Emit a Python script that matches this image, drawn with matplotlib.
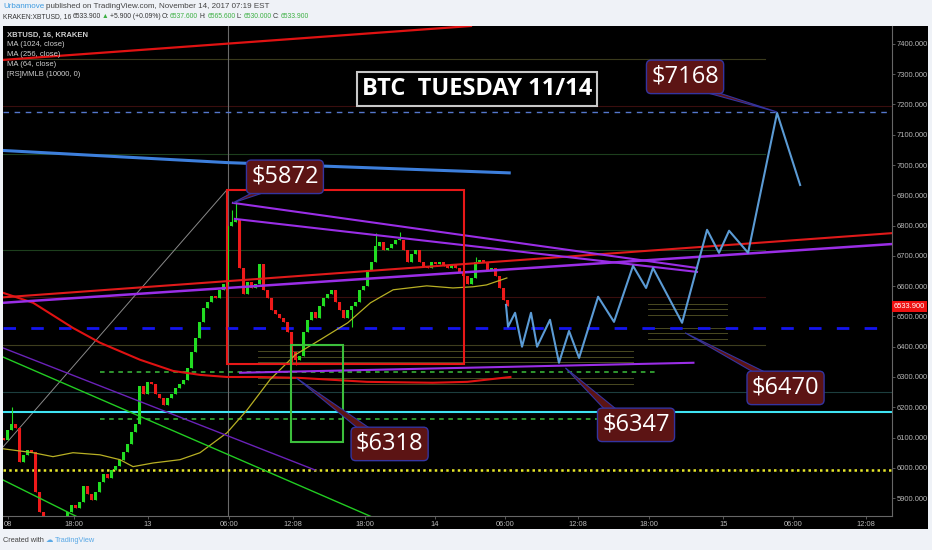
import matplotlib.pyplot as plt
import matplotlib.patches as mpatches
import matplotlib.transforms as mtransforms
import numpy as np

W, H = 932, 550

# ---- candles (20 min bars, hours from 13 Nov 00:00) ----
T0 = -12.04
BAR_H = 0.3344
OPEN0 = 6100
closes = [6092, 6125, 6145, 6132, 6020, 6043, 6059, 6053, 5921, 5855,
          5812, 5779, 5746, 5762, 5795, 5822, 5855, 5878, 5868, 5888,
          5941, 5914, 5894, 5921, 5954, 5980, 5967, 5993, 6007, 6026,
          6053, 6079, 6119, 6145, 6271, 6244, 6284, 6277, 6244, 6231,
          6208, 6231, 6244, 6264, 6277, 6291, 6330, 6383, 6429, 6482,
          6528, 6548, 6568, 6561, 6588, 6608, 6799, 6812, 6819, 6660,
          6574, 6614, 6594, 6608, 6674, 6588, 6561, 6522, 6508, 6495,
          6482, 6449, 6383, 6357, 6370, 6449, 6489, 6515, 6495, 6535,
          6561, 6574, 6588, 6548, 6522, 6495, 6522, 6535, 6548, 6588,
          6601, 6654, 6680, 6733, 6746, 6720, 6726, 6740, 6753, 6753,
          6720, 6680, 6707, 6720, 6680, 6667, 6660, 6680, 6674, 6680,
          6667, 6660, 6674, 6660, 6647, 6634, 6608, 6627, 6680, 6687,
          6680, 6654, 6660, 6634, 6594, 6555, 6534]
high_wicks = {2: 6202, 57: 6850, 58: 6878, 93: 6776, 99: 6779, 118: 6697}
low_wicks = {72: 6350, 73: 6340, 87: 6466}

# ---- indicator / drawing lines (hour, price) ----
ma_top_t, ma_top_p = [-12.12, 27.0], [7347, 7459]
ma_blue_t, ma_blue_p = [-12.12, 6.6, 30.2], [7048, 7008, 6974]
ma_red_t = [-12.12, -9.6, -6.27, -4.0, -0.67, 2.1, 4.35, 6.6, 9.4, 12.7, 18.3, 23.8, 26.7, 30.3]
ma_red_p = [6578, 6545, 6462, 6413, 6357, 6320, 6307, 6300, 6300, 6297, 6284, 6281, 6284, 6300]
ma_yel_t = [-12.12, -9.61, -7.94, -6.27, -4.01, -2.34, -1.25, 0.42, 2.68, 4.35, 6.61, 8.28,
            10.2, 12.3, 14.4, 16.7, 18.6, 20.5, 23.3, 25.5, 27.2, 28.3, 30.0]
ma_yel_p = [6063, 6050, 6037, 6050, 6043, 6027, 6004, 6016, 6027, 6050, 6116, 6191,
            6291, 6373, 6423, 6479, 6545, 6588, 6601, 6594, 6598, 6604, 6627]

red_up_t, red_up_p = [-12.12, 62.2], [6563, 6775]
pur_up_t, pur_up_p = [-12.12, 62.2], [6545, 6739]
pur_dn1_t, pur_dn1_p = [7.1, 45.9], [6875, 6660]
pur_dn2_t, pur_dn2_p = [7.27, 45.9], [6822, 6647]
pur_low_t, pur_low_p = [7.7, 45.6], [6314, 6347]
pur_diag_t, pur_diag_p = [-12.12, 13.96], [6396, 5993]
grn_diag1_t, grn_diag1_p = [-12.12, 18.6], [6366, 5840]
grn_diag2_t, grn_diag2_p = [-12.12, -6.0], [5960, 5840]
gray_diag_t, gray_diag_p = [-12.12, 6.6], [6069, 6918]

# horizontal levels: price, start hour, end hour, color, width
levels = [
    (7349, -12.12, 51.6, "#3a3a1c", 0.8),
    (7194, -12.12, 62.2, "#3a0e0e", 0.8),
    (7035, -12.12, 51.6, "#1d3f1d", 0.8),
    (6720, -12.12, 51.6, "#1d3f1d", 0.8),
    (6565, -12.12, 51.6, "#3a0e0e", 0.8),
    (6404, -12.12, 51.6, "#3e3e1e", 0.8),
    (6251, -12.12, 62.2, "#1c3e3e", 0.8),
]
fib_a_t, fib_a_p = [9.2, 40.55], [6387, 6367, 6348, 6297, 6277]
fib_b_t, fib_b_p = [41.8, 48.4], [6541, 6525, 6505, 6462, 6446, 6426]
lvl_7168 = 7175
lvl_6470 = 6461
lvl_cyan = 6183
lvl_dots = 5993
grn_dash = [(6318, -4.0, 42.4), (6161, -4.0, 41.2)]

red_box = (6.6, 26.4, 6343, 6918)
grn_box = (11.96, 16.3, 6086, 6406)

# forecast path
fc_t = [29.93, 30.1, 30.69, 31.27, 32.02, 32.53, 33.61, 34.36, 35.2, 36.04, 37.63,
        38.96, 40.55, 41.64, 42.22, 44.65, 46.74, 47.74, 48.58, 50.17, 52.59, 54.52]
fc_p = [6538, 6466, 6512, 6400, 6512, 6400, 6489, 6347, 6452, 6363, 6565,
        6482, 6667, 6594, 6660, 6479, 6786, 6710, 6783, 6710, 7172, 6934]

# callouts: text, box centre (h, p), target (h, p)
callouts = [
    ("$5872", (11.45, 6961), (7.1, 6875)),
    ("$7168", (44.9, 7291), (52.6, 7175)),
    ("$6318", (20.2, 6079), (12.4, 6297)),
    ("$6347", (40.8, 6142), (34.9, 6330)),
    ("$6470", (53.3, 6264), (44.9, 6446)),
]

tick_h = [-11.7, -6.2, 0.0, 6.77, 12.12, 18.14, 24.0, 29.85, 35.95, 41.9, 48.1, 53.9, 60.0]
tick_lbl = ["08", "18:00", "13", "06:00", "12:08", "18:00", "14", "06:00", "12:08",
            "18:00", "15", "06:00", "12:08"]
price_ticks = list(range(5900, 7401, 100))
last_price = 6533.9
crosshair_h = 6.69

UP, DOWN = "#22dd22", "#ee1a1a"
SMALL = ["Liberation Sans", "DejaVu Sans"]


def fx(x):
    return x / W


def fy(y):
    return 1 - y / H


fig = plt.figure(figsize=(W / 100, H / 100), dpi=100)
fig.patch.set_facecolor("#eff2f7")
fig.add_artist(mpatches.Rectangle((fx(3), fy(529)), fx(928) - fx(3), fy(26) - fy(529),
                                  transform=fig.transFigure, facecolor="black",
                                  edgecolor="none", zorder=0))
ax = fig.add_axes([fx(3), fy(516), fx(892) - fx(3), fy(26) - fy(516)])
ax.set_facecolor("black")
ax.set_xlim(-12.12, 62.2)
ax.set_ylim(5841, 7459)

# dim levels
for p, a, b, c, lw in levels:
    ax.plot([a, b], [p, p], color=c, lw=lw, zorder=1)
for p in fib_a_p:
    ax.plot(fib_a_t, [p, p], color="#4a4a22", lw=0.7, zorder=1)
for p in fib_b_p:
    ax.plot(fib_b_t, [p, p], color="#4a4a22", lw=0.7, zorder=1)

ax.axvline(crosshair_h, color="#6a6a6a", lw=0.8, zorder=1)
ax.plot(gray_diag_t, gray_diag_p, color="#8a8a8a", lw=0.7, zorder=2)

ax.axhline(lvl_7168, color="#5577cc", lw=1.0, dashes=(4, 4), zorder=2)
ax.axhline(lvl_6470, color="#1414ee", lw=2.0, dashes=(4.5, 5.5), zorder=2)
ax.axhline(lvl_cyan, color="#3fe3f3", lw=1.5, zorder=2)
ax.axhline(lvl_dots, color="#e8e82a", lw=1.8, ls=(0, (1, 1.3)), zorder=2)
for p, a, b in grn_dash:
    ax.plot([a, b], [p, p], color="#3cbf3c", lw=1.1, dashes=(3, 3), zorder=2)

# candles
t = T0 + BAR_H * np.arange(len(closes))
opens = [OPEN0] + closes[:-1]
for i, (ti, o, c) in enumerate(zip(t, opens, closes)):
    col = UP if c >= o else DOWN
    hi = max(o, c, high_wicks.get(i, 0))
    lo = min(o, c, low_wicks.get(i, 99999))
    ax.vlines(ti, lo, hi, color=col, lw=0.8, zorder=3)
    ax.bar(ti, max(abs(c - o), 3), bottom=min(o, c), width=BAR_H * 0.75,
           color=col, zorder=3)

# moving averages
ax.plot(ma_top_t, ma_top_p, color="#e01212", lw=1.6, zorder=4)
ax.plot(ma_blue_t, ma_blue_p, color="#3d7fdc", lw=2.2, zorder=4)
ax.plot(ma_red_t, ma_red_p, color="#e01212", lw=1.5, zorder=4)
ax.plot(ma_yel_t, ma_yel_p, color="#b8b024", lw=0.9, zorder=4)

# trend lines
ax.plot(red_up_t, red_up_p, color="#e01a1a", lw=1.5, zorder=4)
ax.plot(pur_up_t, pur_up_p, color="#9a2ee6", lw=1.8, zorder=4)
ax.plot(pur_dn1_t, pur_dn1_p, color="#9a2ee6", lw=1.5, zorder=4)
ax.plot(pur_dn2_t, pur_dn2_p, color="#9a2ee6", lw=1.5, zorder=4)
ax.plot(pur_low_t, pur_low_p, color="#9a2ee6", lw=1.5, zorder=4)
ax.plot(pur_diag_t, pur_diag_p, color="#6a22b8", lw=1.0, zorder=4)
ax.plot(grn_diag1_t, grn_diag1_p, color="#22cc22", lw=1.0, zorder=4)
ax.plot(grn_diag2_t, grn_diag2_p, color="#22cc22", lw=1.0, zorder=4)

for (h0, h1, p0, p1), col in [(red_box, "#e81818"), (grn_box, "#3cbf3c")]:
    ax.add_patch(mpatches.Rectangle((h0, p0), h1 - h0, p1 - p0, fill=False,
                                    edgecolor=col, lw=1.5, zorder=4))

ax.plot(fc_t, fc_p, color="#5b9bd5", lw=1.5, zorder=5)

# callouts
for s, (cx, cy), (tx, ty) in callouts:
    sx = 1 if tx > cx else -1
    sy = 1 if ty > cy else -1
    a = (cx + sx * 1.6, cy + sy * 50)
    b = (cx + sx * 2.6, cy + sy * 50)
    ax.add_patch(mpatches.Polygon([(tx, ty), a, b], closed=True, facecolor="#5c1414",
                                  edgecolor="#3434a0", lw=0.8, zorder=6))
    ax.text(cx, cy, s, ha="center", va="center", fontsize=17, color="white",
            family=["Open Sans", "DejaVu Sans"], zorder=7,
            bbox=dict(boxstyle="round,pad=0.2", fc="#5c1414", ec="#3434a0", lw=1))

ax.text(27.5, 7251, "BTC  TUESDAY 11/14", ha="center", va="center", fontsize=17,
        fontweight="bold", color="white", family=["Open Sans", "DejaVu Sans"], zorder=7,
        bbox=dict(boxstyle="square,pad=0.2", fc="black", ec="#c8c8c8", lw=1.5))

# legend text
legend_lines = ["XBTUSD, 16, KRAKEN", "MA (1024, close)", "MA (256, close)",
                "MA (64, close)", "[RS]MMLB (10000, 0)"]
for k, s in enumerate(legend_lines):
    fig.text(fx(7), fy(35 + 10 * k), s, color="#cfcfcf", fontsize=5.5,
             family=SMALL, va="center", fontweight="bold" if k == 0 else "normal")

# axes styling
ax.yaxis.tick_right()
ax.set_yticks(price_ticks)
ax.set_yticklabels([f"{v:.3f}" for v in price_ticks])
ax.set_xticks(tick_h)
ax.set_xticklabels(tick_lbl)
ax.tick_params(axis="both", colors="#666666", labelcolor="#b8b8b8", labelsize=5.4,
               length=2, width=0.6, pad=1.5)
for lab in ax.get_xticklabels() + ax.get_yticklabels():
    lab.set_family(SMALL)
for side in ["top", "left"]:
    ax.spines[side].set_visible(False)
for side in ["right", "bottom"]:
    ax.spines[side].set_color("#666666")
    ax.spines[side].set_linewidth(0.8)

ax.text(1.002, last_price, f"{last_price:.3f}", transform=mtransforms.blended_transform_factory(
    ax.transAxes, ax.transData), ha="left", va="center", color="white", fontsize=5.4,
    family=SMALL, clip_on=False, zorder=8,
    bbox=dict(boxstyle="square,pad=0.25", fc="#ee1111", ec="none"))

# header rows
renderer = fig.canvas.get_renderer()


def text_row(y, x0, parts, size, gap):
    x = x0
    for s, c, w in parts:
        tt = fig.text(fx(x), fy(y), s, color=c, fontsize=size, fontweight=w, va="center",
                      ha="left", family=SMALL)
        x += tt.get_window_extent(renderer).width + gap


text_row(6, 3, [("Urbanmove", "#3c9ae0", "normal"),
                ("published on TradingView.com, November 14, 2017 07:19 EST", "#444444", "normal")],
         5.8, 2)
GRN = "#3cb043"
text_row(17, 3, [("KRAKEN:XBTUSD, 16", "#333333", "normal"), ("6533.900", "#333333", "normal"),
                 ("\u25b2", GRN, "normal"), ("+5.900 (+0.09%)", "#333333", "normal"),
                 ("O:", "#333333", "normal"), ("6537.600", GRN, "normal"),
                 ("H:", "#333333", "normal"), ("6565.600", GRN, "normal"),
                 ("L:", "#333333", "normal"), ("6530.000", GRN, "normal"),
                 ("C:", "#333333", "normal"), ("6533.900", GRN, "normal")], 4.9, 1.2)
text_row(541, 3, [("Created with", "#444444", "normal"), ("\u2601", "#5aa9e6", "normal"),
                  ("TradingView", "#5aa9e6", "normal")], 5.3, 2)

fig.savefig("out.png", dpi=100, facecolor=fig.get_facecolor())
